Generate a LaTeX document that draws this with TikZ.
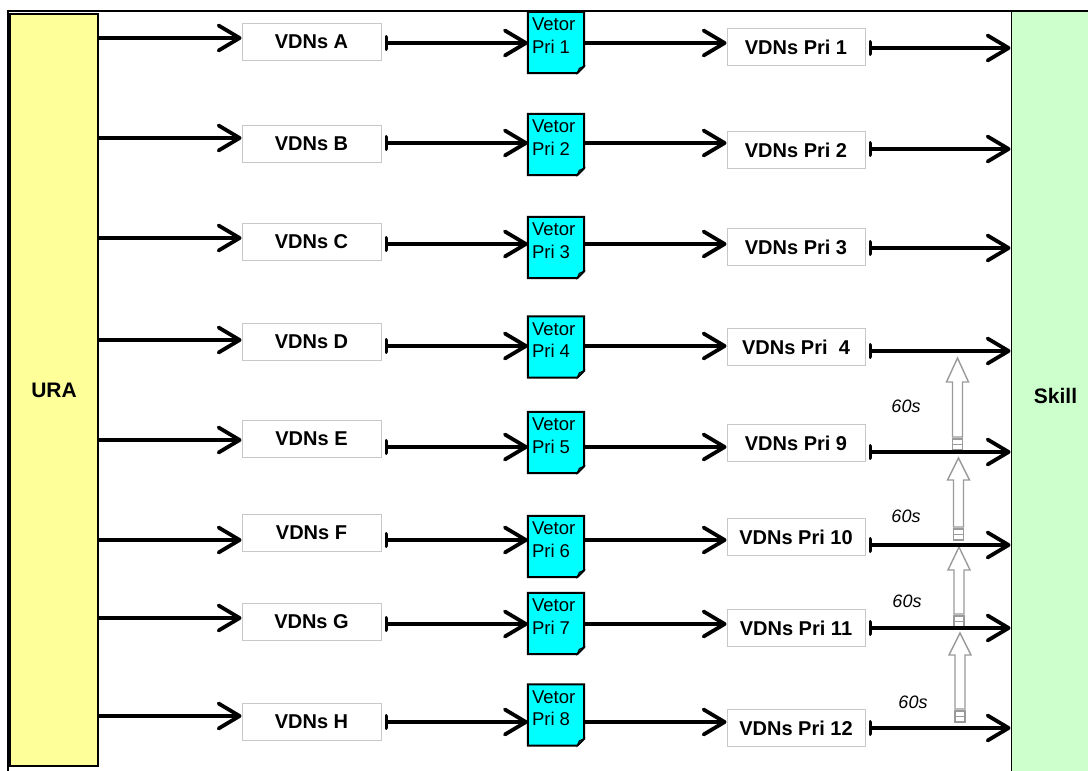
\documentclass[tikz,border=0pt]{standalone}
\usepackage{fontspec}
\setmainfont{Liberation Sans}
\usetikzlibrary{arrows.meta,calc}
\definecolor{uraYellow}{HTML}{FFFF99}
\definecolor{skillGreen}{HTML}{CCFFCC}
\definecolor{vecCyan}{HTML}{00FFFF}
\definecolor{boxEdge}{HTML}{C8C8C8}
\definecolor{timerGray}{HTML}{9A9A9A}
\begin{document}
\begin{tikzpicture}[x=1pt,y=-1pt,
  side/.style={draw=black, line width=1.2pt, inner sep=0pt, font=\fontsize{21}{24}\selectfont\bfseries},
  vdn/.style={draw=boxEdge, line width=1pt, fill=white, minimum width=139pt, minimum height=37pt, inner sep=0pt, font=\fontsize{20}{24}\selectfont\bfseries},
  pri/.style={vdn, minimum width=138pt},
  vecbox/.style={minimum width=56pt, minimum height=61pt, inner sep=0pt},
  vecedge/.style={draw=black, line width=2pt, fill=vecCyan, line join=miter},
  vectext/.style={anchor=north west, align=left, inner sep=0pt, font=\fontsize{18.5}{22.5}\selectfont},
  feed/.style={line width=3.8pt, -{Straight Barb[round,length=21pt,width=25pt]}},
  flow/.style={line width=3.8pt, {Bar[width=12pt,round]}-{Straight Barb[round,length=21pt,width=25pt]}},
  timer/.style={draw=timerGray, line width=1.4pt, fill=white},
  delay/.style={inner sep=0pt, font=\fontsize{18}{20}\selectfont\itshape}
]
\useasboundingbox (0,0) rectangle (1088,771);

% outer frame
\draw[line width=1.5pt] (8,771) -- (8,11) -- (1088,11);

% side blocks
\node[side, fill=uraYellow, minimum width=88pt, minimum height=752pt] (ura) at (54,390) {URA};
\node[side, line width=1pt, fill=skillGreen, minimum width=89pt, minimum height=769pt] (skill) at (1055.5,395.5) {Skill};

% rows: index / entry / y from URA / entry y / vector y / vector centre / priority y / exit y / priority label / vector label
\foreach \i/\nm/\yu/\vy/\ay/\vecy/\py/\sy/\plab/\vlab in {
  1/A/38/42/43/42.5/47/48/{VDNs Pri 1}/{Pri 1},
  2/B/138/144/143/144.5/150/149/{VDNs Pri 2}/{Pri 2},
  3/C/238/242/244/247.5/247/248/{VDNs Pri 3}/{Pri 3},
  4/D/340/342/346/347/347/351/{VDNs Pri\ \ 4}/{Pri 4},
  5/E/440/439/447/442.5/443/452/{VDNs Pri 9}/{Pri 5},
  6/F/540/533/540/546.5/537/545/{VDNs Pri 10}/{Pri 6},
  7/G/618/622/624/623.5/628/628/{VDNs Pri 11}/{Pri 7},
  8/H/716/722/722/715/728/728/{VDNs Pri 12}/{Pri 8}}{
  \node[vdn] (v\i) at (311.5,\vy) {VDNs \nm};
  \node[pri] (p\i) at (796,\py) {\plab};
  \node[vecbox] (vec\i) at (556,\vecy) {};
  \path[vecedge] (vec\i.north west) -- (vec\i.north east)
     -- ([yshift=7pt]vec\i.south east) -- ([xshift=-7pt]vec\i.south east)
     -- (vec\i.south west) -- cycle;
  \filldraw[line width=0.8pt, fill=black!70!vecCyan] ([xshift=-7pt]vec\i.south east)
     -- ([yshift=7pt]vec\i.south east) -- ([xshift=-5pt,yshift=5pt]vec\i.south east) -- cycle;
  \node[vectext] (vt\i) at ([xshift=4pt,yshift=-6pt]vec\i.north west) {Vetor\\\vlab};
  \coordinate (ay\i) at (0,\ay);
  \coordinate (yu\i) at (0,\yu);
  \coordinate (sy\i) at (0,\sy);
}

% escalation timers between the lower priority queues
\foreach \k/\xc/\yt/\yb/\ys/\tx/\ty in {
  1/957.5/358/382/437/906/406,
  2/958.5/458/480/527/906/516,
  3/959/547/570/614/907/601,
  4/960/633/655/709/913/702}{
  \path[timer] (\xc,\yt) -- (\xc+11,\yb) -- (\xc+5,\yb) -- (\xc+5,\ys)
     -- (\xc-5,\ys) -- (\xc-5,\yb) -- (\xc-11,\yb) -- cycle;
  \path[timer] (\xc-5,\ys+2) rectangle (\xc+5,\ys+7.5);
  \path[timer] (\xc-5,\ys+7.5) rectangle (\xc+5,\ys+13);
  \node[delay] (t\k) at (\tx,\ty) {60s};
}

% connectors
\foreach \i in {1,...,8}{
  \draw[feed] (ura.east |- yu\i) -- (v\i.west |- yu\i);
  \draw[flow] ($(v\i.east |- ay\i)+(3,0)$) -- (vec\i.west |- ay\i);
  \draw[feed] (vec\i.east |- ay\i) -- (p\i.west |- ay\i);
  \draw[flow] ($(p\i.east |- sy\i)+(3,0)$) -- (skill.west |- sy\i);
}
\end{tikzpicture}
\end{document}
